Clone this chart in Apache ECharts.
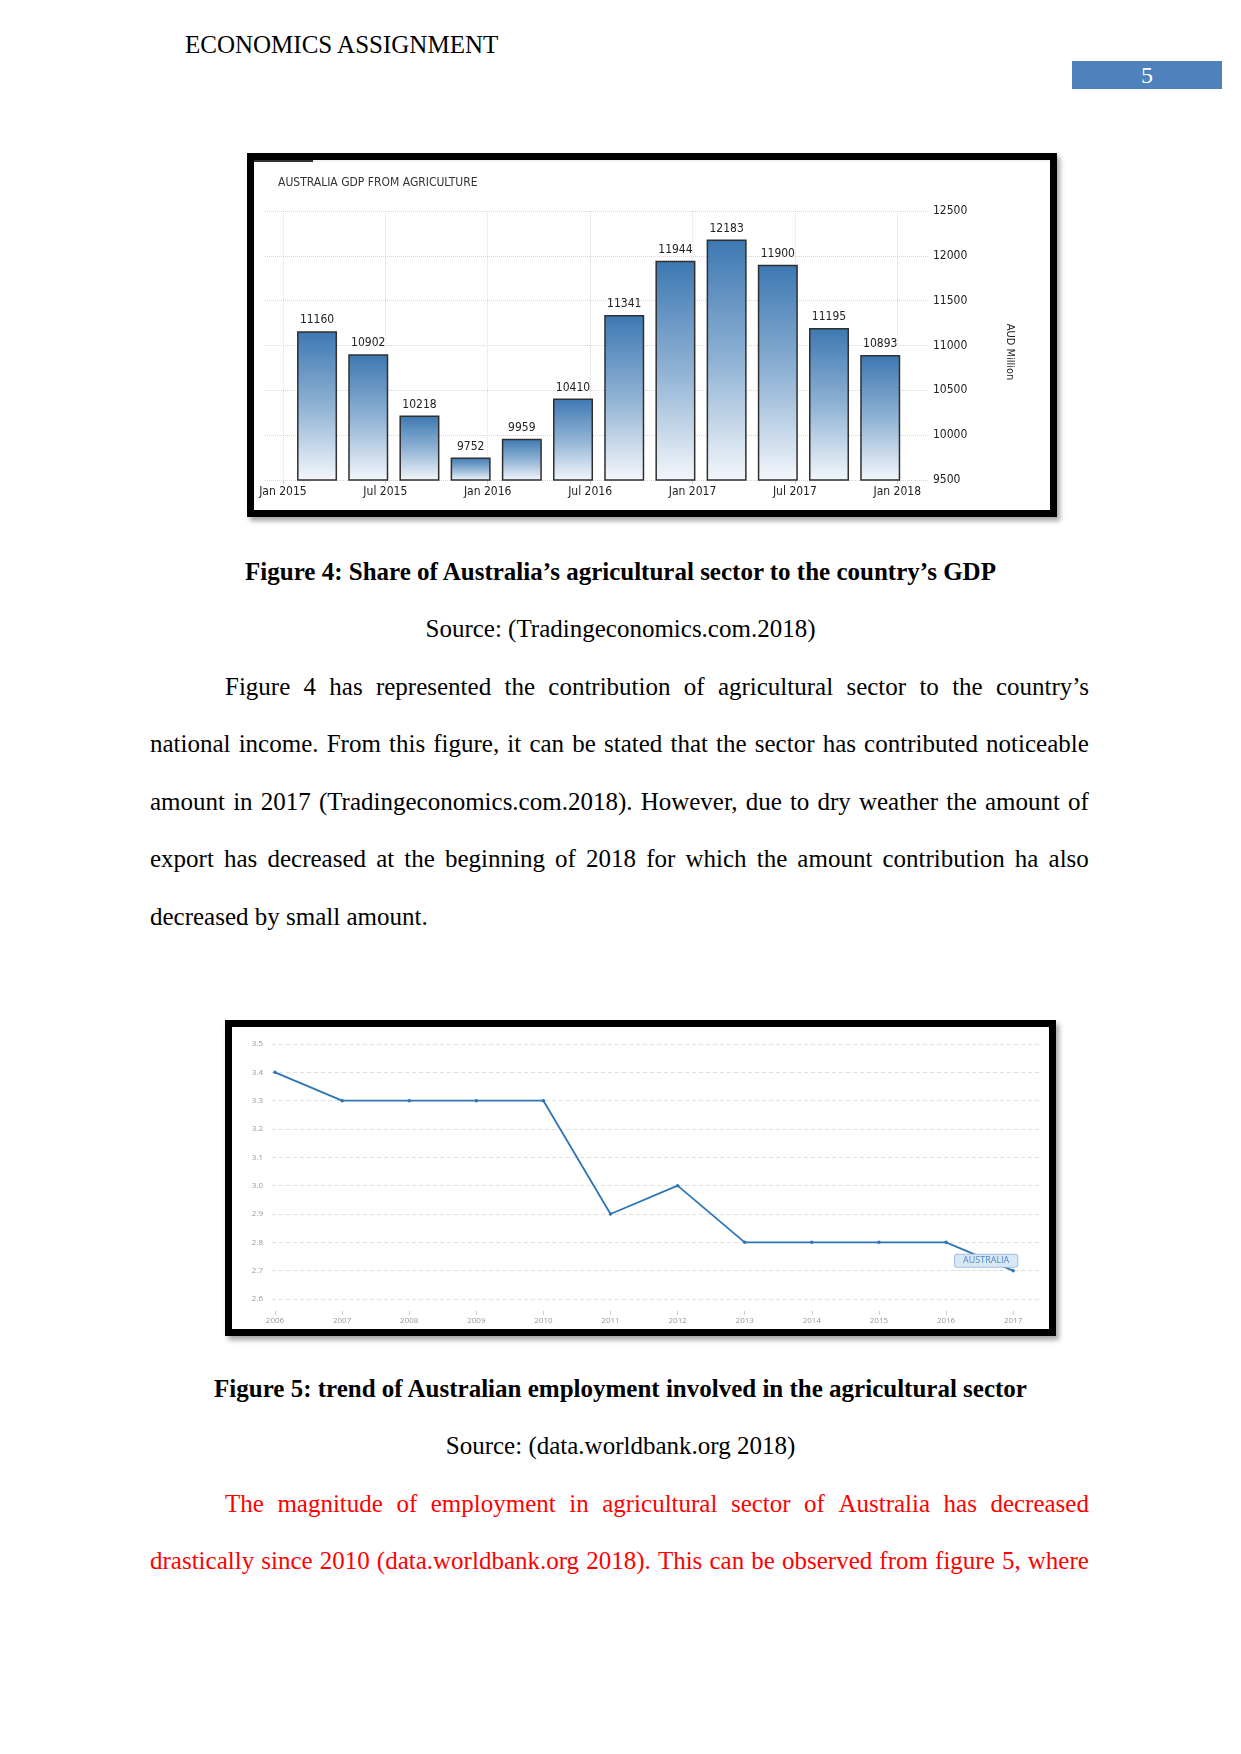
<!DOCTYPE html>
<html><head><meta charset="utf-8">
<script src="https://cdn.jsdelivr.net/npm/echarts@6/dist/echarts.min.js"></script>
<style>
body{margin:0;background:#fff;}
#page{position:relative;width:1241px;height:1754px;background:#fff;overflow:hidden;font-family:'Liberation Serif','Times New Roman',serif;color:#000;}
.t{position:absolute;font-size:25px;line-height:30px;white-space:nowrap;}
.j{display:flex;justify-content:space-between;}
.c{left:0;width:1241px;text-align:center;}
.frame{position:absolute;box-sizing:border-box;border:7px solid #000;box-shadow:3px 4px 5px rgba(0,0,0,0.35);background:#fff;}
.chart{position:absolute;}
</style></head>
<body><div id="page"></div>
<script>
// ---------- Figure 4 data ----------
const gdpQuarters = ['2015-03','2015-06','2015-09','2015-12','2016-03','2016-06','2016-09','2016-12','2017-03','2017-06','2017-09','2017-12'];
const gdpValues = [11160, 10902, 10218, 9752, 9959, 10410, 11341, 11944, 12183, 11900, 11195, 10893];
const gdpTickMonths = [0, 6, 12, 18, 24, 30, 36];
const gdpTickLabels = ['Jan 2015','Jul 2015','Jan 2016','Jul 2016','Jan 2017','Jul 2017','Jan 2018'];
const gdpYTicks = [9500, 10000, 10500, 11000, 11500, 12000, 12500];

// ---------- Figure 5 data ----------
const empYears = [2006, 2007, 2008, 2009, 2010, 2011, 2012, 2013, 2014, 2015, 2016, 2017];
const empValues = [3.4, 3.3, 3.3, 3.3, 3.3, 2.9, 3.0, 2.8, 2.8, 2.8, 2.8, 2.7];
const empYTicks = [2.6, 2.7, 2.8, 2.9, 3.0, 3.1, 3.2, 3.3, 3.4, 3.5];

// ---------- document text ----------
const page = document.getElementById('page');
function add(html, cls, left, baseline, extra) {
  const d = document.createElement('div');
  d.className = 't ' + (cls || '');
  d.style.top = (baseline - 23.5) + 'px';
  if (left !== null) d.style.left = left + 'px';
  if (extra) Object.assign(d.style, extra);
  d.innerHTML = html;
  page.appendChild(d);
  return d;
}
function justified(text, left, right, baseline, color) {
  const d = add(text.split(' ').map(w => '<span>' + w + '</span>').join(''), 'j', left, baseline, {width: (right - left) + 'px'});
  if (color) d.style.color = color;
}
add('ECONOMICS ASSIGNMENT', '', 185, 53);
const pn = document.createElement('div');
Object.assign(pn.style, {position:'absolute', left:'1072px', top:'61px', width:'150px', height:'28px', background:'#4f81bd',
  color:'#fff', fontFamily:"'Liberation Serif',serif", fontSize:'24px', lineHeight:'28px', textAlign:'center'});
pn.textContent = '5';
page.appendChild(pn);

add('<b>Figure 4: Share of Australia’s agricultural sector to the country’s GDP</b>', 'c', null, 580);
add('Source: (Tradingeconomics.com.2018)', 'c', null, 637);
justified('Figure 4 has represented the contribution of agricultural sector to the country’s', 225, 1089, 695);
justified('national income. From this figure, it can be stated that the sector has contributed noticeable', 150, 1089, 752.5);
justified('amount in 2017 (Tradingeconomics.com.2018). However, due to dry weather the amount of', 150, 1089, 810);
justified('export has decreased at the beginning of 2018 for which the amount contribution ha also', 150, 1089, 867.5);
add('decreased by small amount.', '', 150, 925);
add('<b>Figure 5: trend of Australian employment involved in the agricultural sector</b>', 'c', null, 1397);
add('Source: (data.worldbank.org 2018)', 'c', null, 1454);
justified('The magnitude of employment in agricultural sector of Australia has decreased', 225, 1089, 1512, '#ff0000');
justified('drastically since 2010 (data.worldbank.org 2018). This can be observed from figure 5, where', 150, 1089, 1569, '#ff0000');

function box(cls, l, t, w, h) {
  const d = document.createElement('div');
  d.className = cls;
  Object.assign(d.style, {left: l + 'px', top: t + 'px', width: w + 'px', height: h + 'px'});
  page.appendChild(d);
  return d;
}

// ---------- Chart 1 ----------
box('frame', 247, 153, 810, 364);
const c1 = echarts.init(box('chart', 247, 153, 810, 364));
const F1 = "'DejaVu Sans Condensed','DejaVu Sans',sans-serif";
const monthIndex = s => { const p = s.split('-'); return (+p[0] - 2015) * 12 + (+p[1] - 1); };
c1.setOption({
  animation: false,
  grid: {left: 18, top: 58, width: 663, height: 269},
  graphic: [
    {type: 'line', shape: {x1: 7, y1: 8, x2: 803, y2: 8}, style: {stroke: '#e6e6e6', lineWidth: 1}},
    {type: 'line', shape: {x1: 7, y1: 8, x2: 66, y2: 8}, style: {stroke: '#333', lineWidth: 2}},
    {type: 'text', x: 31, y: 30, style: {text: 'AUSTRALIA GDP FROM AGRICULTURE', fill: '#333', font: '12px ' + F1, verticalAlign: 'middle'}},
    {type: 'text', x: 763, y: 199, rotation: -Math.PI / 2, style: {text: 'AUD Million', fill: '#222', font: '11px ' + F1, align: 'center', verticalAlign: 'middle'}}
  ],
  xAxis: {
    type: 'value', min: -1.05, max: 37.8,
    axisLine: {show: false},
    axisTick: {show: true, length: 4, lineStyle: {color: '#ccc'}, customValues: gdpTickMonths},
    axisLabel: {customValues: gdpTickMonths, margin: 6, color: '#222', fontSize: 12, fontFamily: F1,
      formatter: v => gdpTickLabels[gdpTickMonths.indexOf(v)] || ''},
    splitLine: {show: true, lineStyle: {color: '#ddd', type: 'dotted'}}
  },
  yAxis: {
    type: 'value', position: 'right', min: 9500, max: 12500, interval: 500,
    axisLine: {show: false}, axisTick: {show: false},
    axisLabel: {margin: 5, color: '#222', fontSize: 12, fontFamily: F1, formatter: v => String(v)},
    splitLine: {show: true, lineStyle: {color: '#d6d6d6', type: 'dotted'}}
  },
  series: [{
    type: 'bar', barWidth: 40, clip: true,
    data: gdpQuarters.map((q, i) => [monthIndex(q), gdpValues[i]]),
    itemStyle: {
      color: new echarts.graphic.LinearGradient(0, 0, 0, 1, [{offset: 0, color: '#3d78b2'}, {offset: 0.5, color: '#8fb2d4'}, {offset: 1, color: '#f4f7fb'}]),
      borderColor: '#2f2f2f', borderWidth: 1.5
    },
    label: {show: true, position: 'top', distance: 5, color: '#222', fontSize: 12, fontFamily: F1,
      formatter: p => String(p.value[1])}
  }]
});

// ---------- Chart 2 ----------
box('frame', 225, 1020, 831, 316);
const c2 = echarts.init(box('chart', 225, 1020, 831, 316));
const F2 = "'Open Sans','DejaVu Sans',sans-serif";
const lastIdx = empYears.length - 1;
c2.setOption({
  animation: false,
  grid: {left: 47, top: 24, width: 770, height: 255},
  xAxis: {
    type: 'value', min: 2005.955, max: 2017.43, offset: 12,
    axisLine: {show: false},
    axisTick: {show: true, length: 4, lineStyle: {color: '#ccc'}, customValues: empYears},
    axisLabel: {customValues: empYears, margin: 6, color: '#999', fontSize: 8, fontFamily: F2, formatter: v => String(v)},
    splitLine: {show: false}
  },
  yAxis: {
    type: 'value', min: 2.6, max: 3.5, interval: 0.1,
    axisLine: {show: false}, axisTick: {show: false},
    axisLabel: {margin: 9, color: '#999', fontSize: 8, fontFamily: F2, formatter: v => v.toFixed(1)},
    splitLine: {show: true, lineStyle: {color: '#dedede', type: [4, 3]}}
  },
  series: [{
    type: 'line', symbol: 'circle', symbolSize: 3.5,
    lineStyle: {color: '#2e75b6', width: 1.8},
    itemStyle: {color: '#2e75b6'},
    data: empYears.map((y, i) => {
      const item = {value: [y, empValues[i]]};
      if (i === lastIdx) item.label = {
        show: true, position: 'inside', offset: [-27, -10], formatter: 'AUSTRALIA',
        color: '#4a86c5', fontSize: 9, fontFamily: F2, backgroundColor: '#d9e8f5',
        borderColor: '#9fc0df', borderWidth: 1, borderRadius: 2, padding: [2, 8, 1, 8]
      };
      return item;
    })
  }]
});
</script>
</body></html>
